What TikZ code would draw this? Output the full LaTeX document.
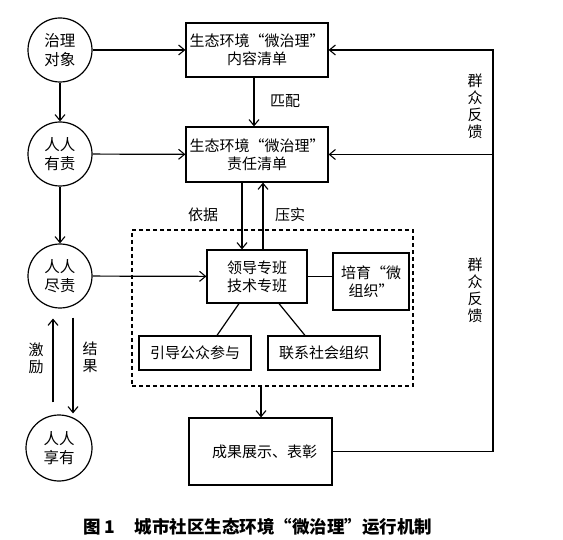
\documentclass[tikz,border=0pt]{standalone}
\usepackage{fontspec}
\setmainfont{Noto Sans CJK SC}
\usetikzlibrary{arrows.meta,calc}
\tikzset{
  arr/.style={-{Straight Barb[length=6pt,width=10pt,line width=1.1pt]}},
  ln/.style={line width=1.2pt},
  circ/.style={circle,draw,line width=1.2pt,minimum size=64pt,inner sep=0pt,align=center,font=\fontsize{15.5}{19}\selectfont},
  boxn/.style={rectangle,draw,line width=1.2pt,inner sep=0pt,align=center,font=\fontsize{15}{18}\selectfont},
  lab/.style={inner sep=0pt,align=center,font=\fontsize{15}{17}\selectfont},
}
\begin{document}
\begin{tikzpicture}[x=1pt,y=-1pt]
\useasboundingbox (0,0) rectangle (563,540);
% circles
\node[circ] (c1) at (60,50) {治理\\对象};
\node[circ] (c2) at (60,154) {人人\\有责};
\node[circ] (c3) at (60,276) {人人\\尽责};
\node[circ,minimum size=66pt] (c4) at (59,448) {人人\\享有};
% boxes
\node[boxn,minimum width=142pt,minimum height=54pt] (b1) at (257,50) {生态环境“微治理”\\内容清单};
\node[boxn,minimum width=142pt,minimum height=55pt] (b2) at (257,154.5) {生态环境“微治理”\\责任清单};
\node[draw,dashed,dash pattern=on 4pt off 3pt,line width=1.2pt,minimum width=281pt,minimum height=156pt,inner sep=0pt] (dash) at (272.5,308) {};
\node[boxn,minimum width=100pt,minimum height=53pt] (lead) at (257,276.5) {领导专班\\技术专班};
\node[boxn,minimum width=76pt,minimum height=57pt] (grow) at (371,281.5) {培育“微\\组织”};
\node[boxn,minimum width=112pt,minimum height=34pt] (guide) at (195,353) {引导公众参与};
\node[boxn,minimum width=112pt,minimum height=34pt] (link) at (324,353) {联系社会组织};
\node[boxn,minimum width=143pt,minimum height=67pt] (result) at (260.5,451.5) {\hspace{8pt}成果展示、表彰};
% helper coordinates
\coordinate (x1) at (254,0);
\coordinate (x2) at (242,0);
\coordinate (x3) at (263,0);
\coordinate (x4) at (261,0);
\coordinate (fb) at (493,0);
\coordinate (j1) at (53,0);
\coordinate (j2) at (73,0);
% connectors
\draw[ln,arr] (c1) -- (b1);
\draw[ln,arr] (c2) -- (b2);
\draw[ln,arr] (c3) -- (lead);
\draw[ln,arr] (c1) -- (c2);
\draw[ln,arr] (c2) -- (c3);
\draw[ln,arr] (b1.south -| x1) -- (b2.north -| x1);
\draw[ln,arr] (b2.south -| x2) -- (lead.north -| x2);
\draw[ln,arr] (lead.north -| x3) -- (b2.south -| x3);
\draw[ln] (lead.east) -- (lead.east -| grow.west);
\draw[ln] ($(lead.south)+(-18,0)$) -- ($(guide.north)+(22,0)$);
\draw[ln] ($(lead.south)+(22,0)$) -- ($(link.north)+(-19,0)$);
\draw[ln,arr] (dash.south -| x4) -- (result.north -| x4);
\draw[ln,arr] (result.east) -- (result.east -| fb) -- (b1.east -| fb) -- (b1.east);
\draw[ln,arr] (b2.east -| fb) -- (b2.east);
\draw[ln,arr] ($(c4.north -| j1)+(0,-12)$) -- ($(c3.south -| j1)+(0,10)$);
\draw[ln,arr] ($(c3.south -| j2)+(0,9)$) -- ($(c4.north -| j2)+(0,-1)$);
% labels
\node[lab] (l1) at (285,101) {匹配};
\node[lab] (l2) at (203,215) {依据};
\node[lab] (l3) at (290,215) {压实};
\node[lab] (l4) at (475,106) {群\\众\\反\\馈};
\node[lab] (l5) at (475,290) {群\\众\\反\\馈};
\node[lab] (l6) at (36,358) {激\\励};
\node[lab] (l7) at (90,357) {结\\果};
% caption
\node[inner sep=0pt,font=\fontsize{17.5}{20}\selectfont\bfseries] (cap) at (258,527) {图\,1\hspace{20pt}城市社区生态环境“微治理”运行机制};
\end{tikzpicture}
\end{document}
